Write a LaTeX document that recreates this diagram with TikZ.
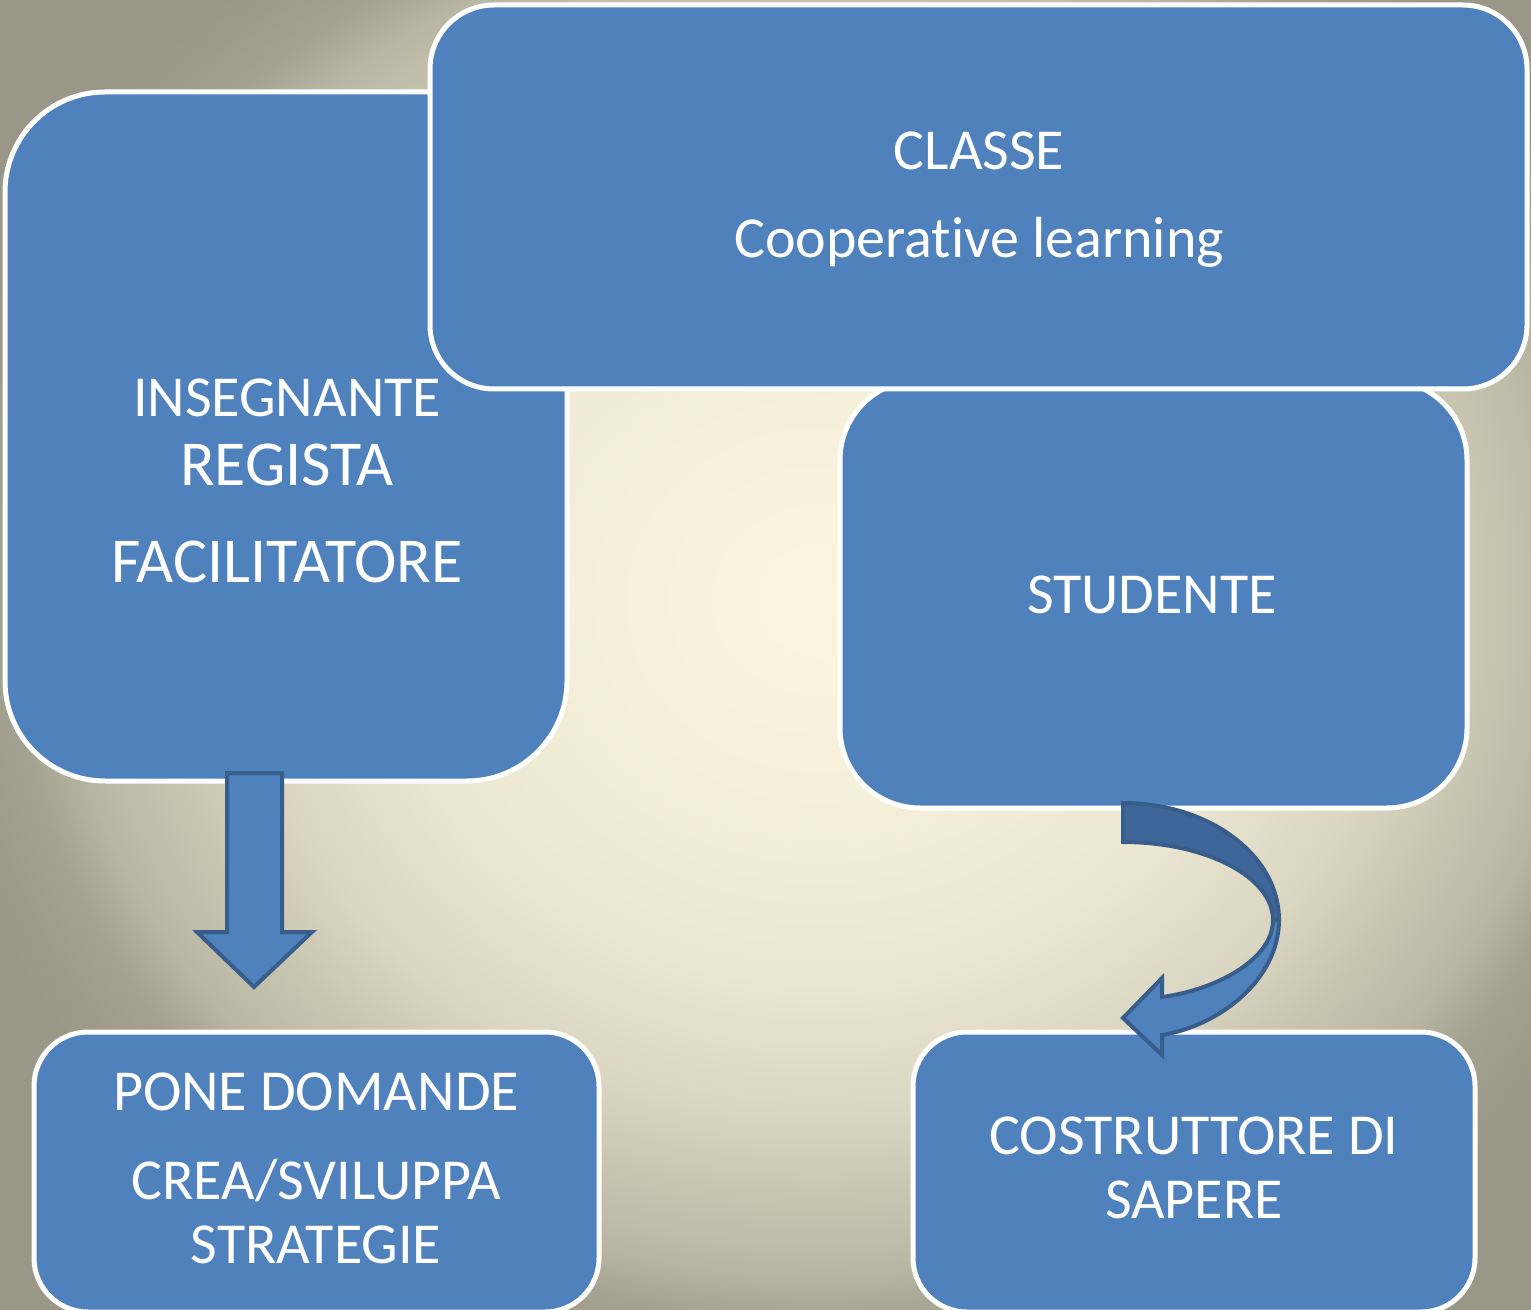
\documentclass[tikz,border=0pt]{standalone}
\usepackage{fontspec}
\setmainfont{Carlito}[Ligatures=NoCommon]
\definecolor{boxblue}{HTML}{4F81BD}
\definecolor{arrowedge}{HTML}{385D8A}
\definecolor{arrowdark}{HTML}{3E6699}
\definecolor{bgA}{HTML}{FBF5E0}
\definecolor{bgB}{HTML}{F6F0DA}
\definecolor{bgC}{HTML}{ECE7D2}
\definecolor{bgD}{HTML}{DAD6C2}
\definecolor{bgE}{HTML}{C6C3AF}
\definecolor{bgF}{HTML}{B9B6A3}
\definecolor{bgG}{HTML}{A4A190}
\definecolor{bgH}{HTML}{9A9788}
\pgfdeclareradialshading{bgshade}{\pgfpoint{0bp}{0bp}}{color(0bp)=(bgA); color(6bp)=(bgB); color(11.7bp)=(bgC); color(16.1bp)=(bgD); color(18.9bp)=(bgE); color(21bp)=(bgF); color(22.6bp)=(bgG); color(25bp)=(bgH); color(50bp)=(bgH)}
\tikzset{
  roundbox/.style={draw=white, line width=2.5pt, fill=boxblue, rounded corners=#1, inner sep=0pt},
  lbl/.style={text=white, font=\fontsize{29}{35}\selectfont, anchor=base, inner sep=0pt},
  lblbig/.style={lbl, font=\fontsize{32}{38}\selectfont},
  blockarrow/.style={draw=arrowedge, line width=2pt, fill=boxblue, line join=miter},
}
\begin{document}
\begin{tikzpicture}[x=0.5pt, y=-0.5pt]
\useasboundingbox (0,0) rectangle (1531,1310);
\shade[shading=bgshade] (-80,-200) rectangle (1720,1400);
% boxes
\node[roundbox=50pt, minimum width=281pt, minimum height=344.5pt] (ins) at (286,436.5) {};
\node[roundbox=40pt, minimum width=313.5pt, minimum height=214pt] (stud) at (1153.5,594) {};
\node[roundbox=32pt, minimum width=548.5pt, minimum height=192pt] (classe) at (978.5,197) {};
\node[roundbox=27pt, minimum width=282.5pt, minimum height=140pt] (pone) at (316.5,1172) {};
\node[roundbox=27pt, minimum width=281pt, minimum height=140pt] (cost) at (1194,1172) {};
% down block arrow
\draw[blockarrow] (227,773) -- (282,773) -- (282,932) -- (312,932) -- (254,987) -- (197,932) -- (227,932) -- cycle;
% curved block arrow
\draw[blockarrow] (1279,920) .. controls (1279,978) and (1222,1025) .. (1162,1035)
  -- (1162,1055) -- (1123,1018) -- (1162,978) -- (1162,997)
  .. controls (1215,990) and (1273,960) .. (1273,920) -- cycle;
\draw[blockarrow, fill=arrowdark] (1123,803) .. controls (1209,803) and (1279,855) .. (1279,920)
  -- (1273,920) .. controls (1273,877) and (1206,842) .. (1123,842) -- cycle;
% texts
\node[lbl] (t1) at (979,170) {CLASSE};
\node[lbl] (t2) at (979,258) {Cooperative learning};
\node[lbl] (t3) at (287,417) {INSEGNANTE};
\node[lblbig] (t4) at (287,485) {REGISTA};
\node[lblbig] (t5) at (287,582) {FACILITATORE};
\node[lbl] (t6) at (1152,613) {STUDENTE};
\node[lbl] (t7) at (316,1110) {PONE DOMANDE};
\node[lbl] (t8) at (316,1199) {CREA/SVILUPPA};
\node[lbl] (t9) at (316,1263) {STRATEGIE};
\node[lbl] (t10) at (1194,1154) {COSTRUTTORE DI};
\node[lbl] (t11) at (1194,1218) {SAPERE};
\end{tikzpicture}
\end{document}
